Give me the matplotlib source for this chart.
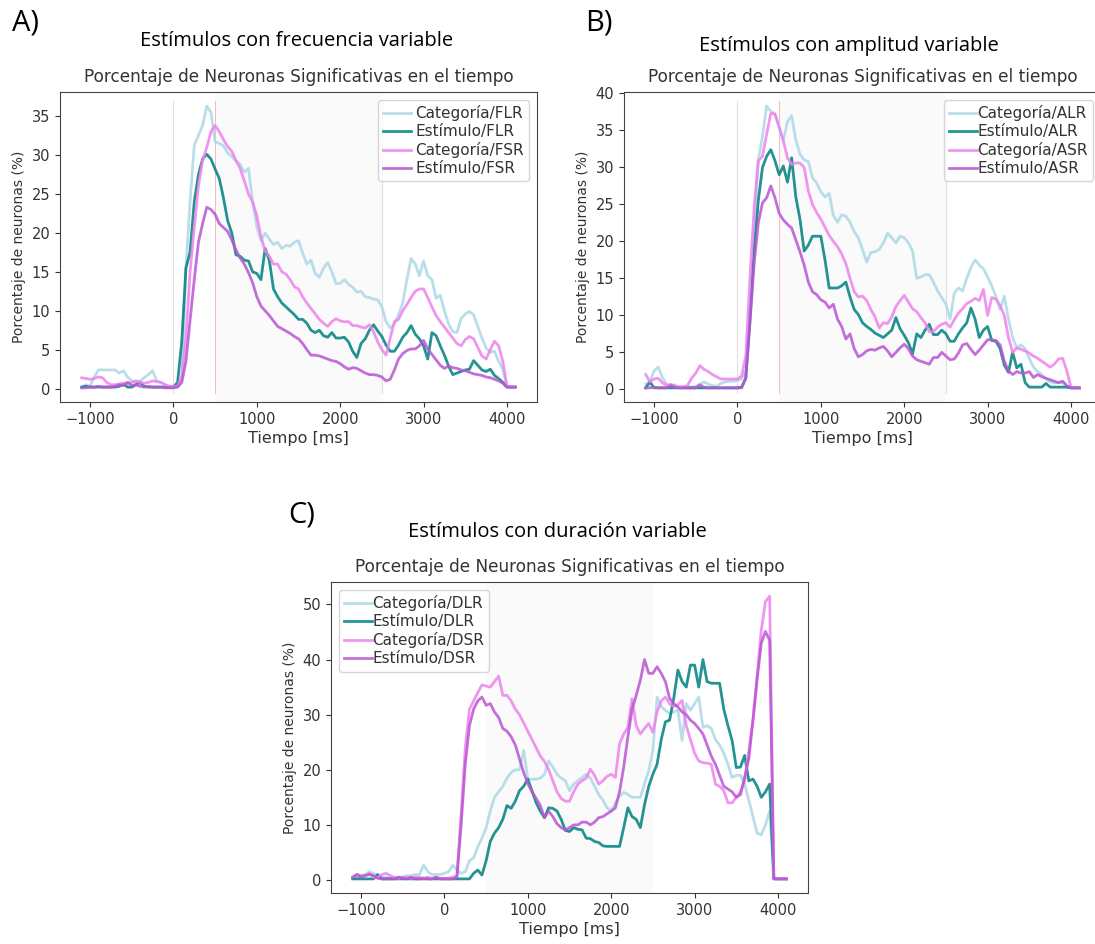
import numpy as np
import matplotlib.pyplot as plt

# time axis (ms), one sample every 50 ms
tiempo = np.arange(-1100, 4101, 50)

# A) frecuencia variable
cat_flr = [0.2, 0.5, 0.3, 1.5, 2.4, 2.4, 2.4, 2.4, 2.4, 2.0,
           2.3, 1.5, 1.0, 0.8, 1.0, 1.4, 1.8, 2.3, 1.0, 0.8,
           0.5, 0.3, 0.3, 0.3, 1.0, 15.5, 24.0, 31.3, 32.5, 33.8,
           36.3, 35.5, 31.7, 31.5, 31.2, 30.3, 29.8, 29.3, 28.8, 27.8,
           28.3, 24.0, 20.8, 19.0, 20.0, 19.2, 18.5, 18.8, 18.0, 18.4,
           18.3, 18.8, 19.0, 17.4, 16.0, 16.5, 14.8, 14.3, 15.5, 16.2,
           15.0, 13.5, 13.5, 14.0, 13.4, 13.0, 12.4, 12.5, 11.8, 11.7,
           11.5, 11.4, 10.5, 8.6, 7.8, 8.3, 9.5, 11.0, 14.0, 16.7,
           16.0, 14.5, 16.4, 14.5, 14.0, 11.6, 12.0, 10.0, 8.3, 7.3,
           7.2, 9.0, 9.6, 9.9, 9.5, 8.0, 6.5, 5.2, 4.7, 4.8,
           3.5, 2.5, 0.3, 0.2, 0.2]
est_flr = [0.2, 0.3, 0.2, 0.2, 0.2, 0.2, 0.2, 0.2, 0.2, 0.3,
           0.6, 0.2, 0.2, 0.5, 0.8, 0.3, 0.2, 0.2, 0.2, 0.2,
           0.2, 0.2, 0.2, 0.8, 6.0, 15.5, 17.5, 24.0, 27.5, 29.5,
           30.1, 29.5, 28.2, 27.0, 24.5, 21.6, 20.0, 17.2, 17.0, 16.5,
           16.4, 15.0, 14.8, 14.0, 18.0, 16.5, 12.8, 11.8, 11.0, 10.5,
           10.0, 9.5, 8.9, 8.9, 8.4, 7.5, 7.2, 7.5, 6.8, 6.6,
           7.2, 6.5, 6.5, 6.6, 6.0, 4.8, 4.0, 5.8, 6.4, 7.5,
           8.2, 7.4, 6.7, 5.6, 4.8, 4.8, 5.6, 6.6, 7.2, 8.1,
           7.0, 6.4, 5.5, 3.8, 7.2, 6.8, 5.5, 4.3, 2.9, 1.8,
           2.0, 2.2, 2.4, 2.5, 3.6, 3.0, 2.4, 2.2, 2.5, 1.7,
           1.3, 0.8, 0.2, 0.2, 0.2]
cat_fsr = [1.4, 1.3, 1.2, 1.3, 1.5, 1.4, 0.8, 0.5, 0.5, 0.6,
           0.7, 0.7, 0.8, 1.0, 0.8, 0.7, 0.8, 1.0, 0.9, 0.8,
           0.5, 0.3, 0.3, 0.3, 1.5, 6.5, 15.0, 20.7, 26.0, 29.3,
           31.0, 33.0, 33.8, 33.0, 32.0, 31.1, 30.5, 29.3, 28.3, 26.7,
           25.0, 24.0, 22.2, 19.5, 17.7, 17.0, 16.0, 16.0, 15.0, 14.7,
           14.0, 13.1, 12.8, 11.8, 11.0, 10.3, 9.6, 8.9, 8.4, 8.0,
           8.6, 9.0, 8.7, 8.6, 8.6, 8.1, 8.1, 7.9, 7.8, 8.2,
           7.3, 6.0, 5.0, 4.3, 6.5, 8.6, 8.9, 10.0, 10.8, 11.7,
           12.5, 12.8, 12.8, 11.7, 10.5, 9.4, 8.6, 7.9, 7.2, 6.5,
           5.8, 5.5, 6.3, 6.7, 6.4, 5.3, 4.2, 3.8, 5.0, 6.1,
           5.5, 3.5, 0.3, 0.2, 0.2]
est_fsr = [0.1, 0.1, 0.2, 0.2, 0.3, 0.2, 0.2, 0.2, 0.3, 0.5,
           0.4, 0.8, 0.4, 0.5, 0.3, 0.2, 0.3, 0.2, 0.2, 0.2,
           0.1, 0.1, 0.1, 0.2, 0.8, 3.5, 8.8, 14.0, 18.8, 21.2,
           23.3, 23.0, 22.4, 21.2, 20.7, 20.2, 19.1, 17.8, 16.8, 16.0,
           14.9, 13.6, 11.8, 10.6, 10.0, 9.4, 8.7, 8.0, 7.7, 7.4,
           7.1, 6.7, 6.4, 5.8, 5.0, 4.3, 4.3, 4.2, 4.0, 3.8,
           3.6, 3.5, 3.2, 2.8, 2.5, 2.7, 2.6, 2.3, 2.0, 1.8,
           1.8, 1.7, 1.5, 1.0, 1.2, 2.4, 3.8, 4.5, 4.9, 5.1,
           5.1, 5.5, 6.2, 5.1, 4.4, 3.7, 3.0, 2.6, 2.9, 2.7,
           2.6, 2.4, 2.3, 2.1, 1.9, 1.8, 1.7, 1.5, 1.4, 1.2,
           1.0, 0.7, 0.2, 0.2, 0.2]

# B) amplitud variable
cat_alr = [0.7, 1.0, 2.5, 3.0, 1.6, 0.7, 0.4, 0.6, 0.3, 0.4,
           0.3, 0.3, 0.4, 0.7, 1.0, 0.7, 0.5, 0.4, 0.8, 1.0,
           1.1, 1.1, 1.2, 1.4, 2.5, 10.5, 21.5, 31.0, 34.2, 38.3,
           37.6, 37.3, 35.3, 33.6, 36.2, 37.0, 33.7, 31.8, 31.0, 30.8,
           28.6, 27.9, 26.7, 26.0, 26.5, 23.5, 22.6, 23.6, 23.4, 22.6,
           21.3, 20.5, 18.9, 17.2, 18.5, 18.6, 18.9, 19.8, 21.1, 20.5,
           19.8, 20.7, 20.5, 19.8, 18.7, 15.0, 15.2, 15.5, 15.5, 14.5,
           13.3, 12.4, 11.5, 9.5, 13.0, 13.7, 13.3, 15.0, 16.5, 17.5,
           16.8, 16.3, 15.2, 14.0, 12.5, 10.8, 12.6, 9.5, 7.0, 5.6,
           6.0, 5.5, 4.2, 3.0, 2.4, 2.0, 1.4, 1.0, 0.9, 0.9,
           0.9, 0.4, 0.2, 0.2, 0.2]
est_alr = [0.2, 1.0, 0.2, 0.2, 0.2, 0.2, 0.2, 0.2, 0.2, 0.2,
           0.2, 0.2, 0.2, 0.2, 0.2, 0.2, 0.2, 0.2, 0.2, 0.2,
           0.2, 0.2, 0.2, 0.3, 1.5, 9.5, 18.5, 25.5, 30.0, 31.5,
           32.4, 30.9, 29.0, 30.2, 28.0, 31.3, 26.0, 23.0, 18.7, 19.5,
           20.7, 20.7, 20.7, 17.5, 13.7, 13.7, 13.7, 14.0, 14.5, 12.5,
           10.8, 10.1, 9.0, 8.5, 8.1, 7.6, 7.3, 7.0, 7.5, 8.0,
           9.7, 8.2, 7.3, 6.3, 4.8, 7.5, 7.0, 8.0, 8.8, 7.4,
           7.4, 8.0, 7.5, 6.5, 6.5, 7.5, 8.3, 9.0, 11.0, 9.5,
           7.0, 8.0, 8.5, 6.6, 6.5, 5.5, 3.3, 2.3, 5.0, 2.9,
           3.4, 0.9, 0.3, 0.3, 0.3, 0.3, 0.8, 0.3, 0.3, 0.3,
           0.3, 0.3, 0.2, 0.2, 0.2]
cat_asr = [2.0, 1.0, 1.4, 1.5, 0.9, 0.5, 0.7, 0.4, 0.3, 0.3,
           0.5, 1.5, 2.2, 3.2, 2.7, 2.4, 2.0, 1.7, 1.4, 1.4,
           1.4, 1.4, 1.4, 1.8, 4.5, 15.0, 24.5, 30.9, 31.5, 34.5,
           37.3, 37.2, 35.5, 33.6, 31.3, 30.4, 30.6, 30.6, 30.0, 26.8,
           25.0, 23.9, 23.0, 21.9, 20.8, 20.0, 19.3, 18.3, 17.0, 15.0,
           13.2, 12.5, 12.6, 12.0, 10.8, 9.8, 8.3, 9.0, 8.9, 9.8,
           11.2, 12.0, 12.7, 11.8, 10.9, 10.5, 9.7, 9.0, 7.8, 7.8,
           8.4, 8.8, 9.0, 8.4, 9.4, 10.3, 10.9, 11.6, 11.9, 12.3,
           12.0, 13.5, 10.0, 12.4, 12.2, 11.3, 10.0, 7.0, 5.0, 5.6,
           5.4, 5.2, 4.9, 4.5, 4.2, 3.8, 3.4, 3.0, 3.4, 4.1,
           4.2, 2.5, 0.3, 0.2, 0.2]
est_asr = [0.2, 0.2, 0.3, 0.2, 0.2, 0.2, 0.5, 0.3, 0.2, 0.2,
           0.2, 0.2, 0.2, 0.6, 0.3, 0.2, 0.2, 0.2, 0.2, 0.2,
           0.2, 0.2, 0.2, 0.2, 1.5, 9.0, 17.0, 22.5, 25.2, 25.9,
           27.5, 25.9, 23.8, 22.9, 22.3, 21.8, 20.2, 18.6, 16.8, 14.5,
           13.2, 12.8, 12.1, 11.8, 11.0, 11.5, 9.5, 8.5, 6.8, 7.5,
           5.5, 4.4, 4.7, 5.2, 5.4, 5.3, 5.6, 5.8, 5.2, 4.4,
           5.0, 5.6, 6.1, 5.5, 4.5, 4.0, 3.8, 3.6, 3.4, 4.3,
           4.3, 5.0, 4.5, 4.0, 4.1, 4.9, 6.0, 6.2, 5.4, 4.7,
           5.3, 6.0, 6.7, 6.7, 6.6, 6.0, 3.8, 2.5, 2.0, 2.4,
           2.2, 2.2, 2.4, 1.6, 2.0, 1.7, 1.5, 1.3, 1.1, 0.9,
           1.1, 0.5, 0.2, 0.2, 0.2]

# C) duración variable
cat_dlr = [0.3, 0.5, 0.8, 1.0, 1.5, 1.2, 0.6, 0.5, 0.5, 0.3,
           0.3, 0.5, 0.5, 0.8, 0.8, 1.0, 1.0, 2.7, 1.5, 1.0,
           1.0, 1.0, 1.2, 1.5, 2.7, 1.8, 1.2, 1.5, 3.5, 4.0,
           6.0, 7.6, 9.5, 12.5, 15.0, 16.0, 17.0, 18.5, 19.5, 20.0,
           20.0, 23.5, 18.3, 18.3, 18.3, 18.5, 19.2, 21.6, 20.5, 19.2,
           18.5, 18.0, 16.2, 17.4, 18.0, 18.6, 19.2, 18.5, 17.0, 15.5,
           14.5, 13.1, 12.5, 14.0, 15.2, 15.9, 15.5, 15.0, 15.0, 15.0,
           17.5, 19.8, 23.5, 33.2, 31.5, 30.8, 30.2, 30.5, 30.8, 25.3,
           32.0, 30.8, 32.0, 33.2, 27.7, 28.0, 27.5, 25.5, 24.5, 23.0,
           21.0, 18.6, 19.0, 19.0, 17.4, 14.5, 11.5, 8.5, 8.2, 10.0,
           12.5, 0.3, 0.2, 0.2, 0.2]
est_dlr = [0.2, 0.2, 0.2, 0.2, 0.2, 0.2, 1.0, 0.2, 0.2, 0.2,
           0.2, 0.2, 0.2, 0.2, 0.2, 0.2, 0.2, 0.2, 0.2, 0.2,
           0.2, 0.2, 0.2, 0.2, 0.2, 0.2, 0.2, 0.2, 0.2, 1.2,
           1.8, 0.9, 3.5, 7.0, 8.5, 9.5, 11.0, 13.5, 13.0, 14.3,
           16.2, 17.0, 18.3, 16.2, 14.0, 12.5, 11.3, 13.1, 13.0, 12.5,
           11.0, 9.0, 8.8, 9.5, 9.2, 9.1, 7.6, 7.5, 7.0, 6.8,
           6.2, 6.1, 6.1, 6.1, 6.1, 9.5, 13.1, 11.5, 11.0, 9.5,
           13.7, 17.0, 19.2, 21.0, 25.5, 28.7, 29.0, 33.0, 38.1, 36.0,
           35.0, 39.0, 39.0, 35.0, 40.0, 36.0, 35.7, 35.7, 35.7, 31.0,
           28.0, 25.3, 20.4, 20.5, 22.6, 18.0, 18.3, 17.0, 15.0, 16.0,
           17.4, 0.2, 0.2, 0.2, 0.2]
cat_dsr = [0.5, 1.0, 0.8, 0.8, 1.2, 0.5, 0.5, 1.0, 1.2, 0.8,
           0.5, 0.3, 0.5, 0.5, 0.3, 0.5, 0.5, 0.3, 0.5, 0.3,
           0.5, 0.3, 0.3, 0.3, 0.5, 0.8, 12.0, 24.0, 31.0, 32.5,
           34.0, 35.4, 35.2, 35.0, 36.0, 37.0, 33.5, 33.5, 32.5, 31.0,
           30.0, 28.5, 27.0, 25.5, 24.0, 22.5, 21.5, 20.0, 18.0, 16.0,
           14.8, 14.3, 14.3, 16.0, 17.4, 18.0, 18.5, 20.1, 19.0, 17.4,
           18.0, 18.8, 19.2, 18.6, 24.7, 26.5, 27.7, 32.9, 28.0, 26.5,
           27.5, 28.4, 26.8, 30.5, 32.5, 33.2, 32.0, 31.5, 31.8, 32.6,
           28.0, 25.5, 23.0, 21.6, 21.3, 21.2, 21.0, 17.4, 17.0, 16.2,
           14.0, 14.0, 15.0, 16.0, 18.0, 23.5, 29.0, 37.0, 45.4, 50.5,
           51.5, 0.3, 0.2, 0.2, 0.2]
est_dsr = [0.5, 1.0, 0.5, 0.8, 1.0, 0.8, 0.3, 0.2, 0.2, 0.2,
           0.2, 0.5, 0.3, 0.2, 0.5, 0.2, 0.2, 0.3, 0.2, 0.2,
           0.5, 0.2, 0.2, 0.2, 0.2, 0.5, 10.0, 21.0, 28.0, 31.0,
           32.5, 33.2, 31.7, 32.0, 30.5, 29.5, 27.5, 27.0, 26.0, 24.5,
           22.0, 19.5, 17.5, 16.0, 14.8, 13.5, 11.3, 12.5, 11.5, 10.2,
           9.5, 9.1, 9.5, 10.0, 10.0, 10.5, 10.5, 10.0, 10.5, 11.3,
           11.5, 12.0, 12.5, 13.1, 16.0, 20.5, 26.0, 31.0, 33.5, 36.3,
           40.0, 37.5, 37.5, 38.7, 37.5, 36.0, 33.0, 32.0, 31.4, 30.5,
           30.0, 29.0, 28.4, 27.5, 26.5, 24.5, 22.5, 21.0, 19.0, 17.0,
           16.5, 16.0, 15.0, 15.5, 18.6, 22.0, 29.0, 36.5, 43.0, 45.1,
           43.5, 0.2, 0.2, 0.2, 0.2]

colores = ['lightblue', 'teal', 'violet', 'mediumorchid']
texto = '#333333'


def panel(ax, series, nombres, loc, marcas=True, pad=0.3):
    ax.axvspan(500, 2500, color='gray', alpha=0.035, lw=0)
    if marcas:
        ax.axvline(0, ymin=0.03, ymax=0.97, color='lightgray', lw=0.8, alpha=0.7)
        ax.axvline(2500, ymin=0.03, ymax=0.97, color='lightgray', lw=0.8, alpha=0.7)
        ax.axvline(500, ymin=0.03, ymax=0.97, color='lightcoral', lw=0.6, alpha=0.6)
    for y, c, n in zip(series, colores, nombres):
        ax.plot(tiempo, y, color=c, lw=2, alpha=0.85, label=n)
    ax.set_title('Porcentaje de Neuronas Significativas en el tiempo',
                 fontsize=12.2, color=texto, pad=7)
    ax.set_xlabel('Tiempo [ms]', fontsize=11.5, color=texto, labelpad=3)
    ax.set_ylabel('Porcentaje de neuronas (%)', fontsize=10, color=texto)
    ax.tick_params(labelsize=10.5, colors=texto)
    for s in ax.spines.values():
        s.set_color('#444444')
    ax.legend(loc=loc, fontsize=11, handletextpad=pad, handlelength=1.8,
              borderpad=0.35, labelspacing=0.2, framealpha=0.8, labelcolor=texto)


fig = plt.figure(figsize=(10.95, 9.44), dpi=100)

ax_a = fig.add_axes([0.0548, 0.5742, 0.4356, 0.3284])
panel(ax_a, [cat_flr, est_flr, cat_fsr, est_fsr],
      ['Categoría/FLR', 'Estímulo/FLR', 'Categoría/FSR', 'Estímulo/FSR'], 'upper right')

ax_b = fig.add_axes([0.5699, 0.5742, 0.4356, 0.3284])
panel(ax_b, [cat_alr, est_alr, cat_asr, est_asr],
      ['Categoría/ALR', 'Estímulo/ALR', 'Categoría/ASR', 'Estímulo/ASR'], 'upper right', pad=0.05)

ax_c = fig.add_axes([0.3023, 0.054, 0.4356, 0.3294])
panel(ax_c, [cat_dlr, est_dlr, cat_dsr, est_dsr],
      ['Categoría/DLR', 'Estímulo/DLR', 'Categoría/DSR', 'Estímulo/DSR'], 'upper left',
      marcas=False, pad=0.05)

fuente = ['Open Sans', 'DejaVu Sans']
fig.text(0.011, 0.976, 'A)', fontsize=21, family=fuente, va='center')
fig.text(0.271, 0.957, 'Estímulos con frecuencia variable', fontsize=14.5,
         family=fuente, ha='center', va='center')
fig.text(0.534, 0.976, 'B)', fontsize=21, family=fuente, va='center')
fig.text(0.775, 0.951, 'Estímulos con amplitud variable', fontsize=14.5,
         family=fuente, ha='center', va='center')
fig.text(0.263, 0.454, 'C)', fontsize=21, family=fuente, va='center')
fig.text(0.509, 0.436, 'Estímulos con duración variable', fontsize=14.5,
         family=fuente, ha='center', va='center')

fig.savefig('out.png', dpi=100)
